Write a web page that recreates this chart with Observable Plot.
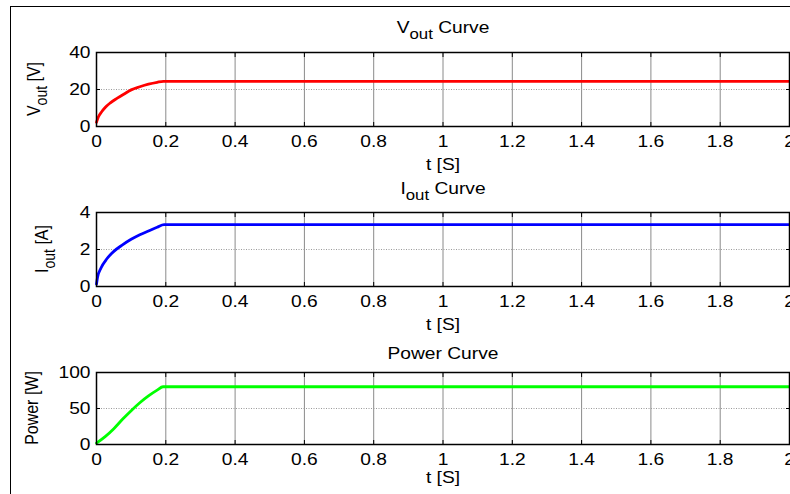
<!DOCTYPE html>
<html>
<head>
<meta charset="utf-8">
<script src="https://cdn.jsdelivr.net/npm/d3@7"></script>
<script src="https://cdn.jsdelivr.net/npm/@observablehq/plot@0.6"></script>
<style>
  html, body { margin: 0; padding: 0; background: #fff; overflow: hidden; }
  #wrap { position: relative; width: 790px; height: 494px; overflow: hidden; background: #fff; }
  #border { position: absolute; left: 10px; top: 6px; width: 800px; height: 500px;
            border-left: 1.5px solid #000; border-top: 1.5px solid #000; box-sizing: border-box; }
</style>
</head>
<body>
<div id="wrap"><div id="border"></div></div>
<script>
// ---- data ----
const xTicks = [0, 0.2, 0.4, 0.6, 0.8, 1, 1.2, 1.4, 1.6, 1.8, 2];

const tV   = [0, 0.005, 0.015, 0.025, 0.04, 0.06, 0.08, 0.1, 0.125, 0.15, 0.175, 0.193, 2.0];
const vOut = [2.3, 5, 8, 10.3, 12.8, 15.3, 17.6, 19.8, 21.5, 22.9, 23.9, 24.4, 24.4];
const vTicks = [0, 20, 40];

const tI   = [0, 0.003, 0.013, 0.03, 0.05, 0.075, 0.1, 0.125, 0.15, 0.175, 0.195, 2.0];
const iOut = [0.13, 0.5, 1.0, 1.5, 1.9, 2.25, 2.55, 2.8, 3.0, 3.2, 3.34, 3.34];
const iTicks = [0, 2, 4];

const tP   = [0, 0.025, 0.05, 0.075, 0.1, 0.125, 0.15, 0.175, 0.192, 2.0];
const pOut = [2, 11, 22, 35, 47, 58, 67.5, 75.5, 80.2, 80.2];
const pTicks = [0, 50, 100];

const wrap = document.getElementById("wrap");
const fmt = d => String(+d.toFixed(1));
const blank = () => "";
const SX = 1.2; // horizontal stretch of the reference lettering

function stretchText(el) {
  if (!el.textContent) return;
  const tr = el.getAttribute("transform");
  if (tr) {
    el.setAttribute("transform", tr + ` scale(${SX},1)`);
  } else {
    const x = +(el.getAttribute("x") || 0), y = +(el.getAttribute("y") || 0);
    el.removeAttribute("x"); el.removeAttribute("y");
    el.setAttribute("transform", `translate(${x},${y}) scale(${SX},1)`);
  }
}

function panel(ts, vs, yTicks, color, top, height, mb) {
  const data = ts.map((t, i) => ({t, v: vs[i]}));
  const chart = Plot.plot({
    width: 790, height,
    marginLeft: 96, marginRight: 1, marginTop: 52, marginBottom: mb,
    x: {domain: [0, 2]},
    y: {domain: [yTicks[0], yTicks[yTicks.length - 1]]},
    style: {fontFamily: "'Liberation Sans', Arial, sans-serif", fontSize: "16px",
            color: "#000", background: "transparent", overflow: "visible"},
    marks: [
      Plot.gridX(xTicks, {stroke: "#8a8a8a", strokeOpacity: 1, strokeWidth: 1}),
      Plot.gridY(yTicks, {stroke: "#9a9a9a", strokeOpacity: 1, strokeWidth: 1, strokeDasharray: "1,1.5"}),
      Plot.line(data, {x: "t", y: "v", stroke: color, strokeWidth: 2.8, curve: "monotone-x"}),
      Plot.axisX(xTicks, {anchor: "bottom", tickSize: 0, tickPadding: 9, tickFormat: fmt, label: null}),
      Plot.axisX(xTicks, {anchor: "bottom", tickSize: 4, dy: -4, tickFormat: blank, label: null}),
      Plot.axisX(xTicks, {anchor: "top", tickSize: 4, dy: 4, tickFormat: blank, label: null}),
      Plot.axisY(yTicks, {anchor: "left", tickSize: 0, tickPadding: 6, label: null}),
      Plot.axisY(yTicks, {anchor: "left", tickSize: 4, dx: 4, tickFormat: blank, label: null}),
      Plot.axisY(yTicks, {anchor: "right", tickSize: 4, dx: -4, tickFormat: blank, label: null}),
      Plot.frame({stroke: "#000", strokeWidth: 1.5})
    ]
  });
  chart.querySelectorAll("text").forEach(stretchText);
  chart.style.position = "absolute";
  chart.style.top = top + "px";
  chart.style.left = "0px";
  wrap.appendChild(chart);
}

panel(tV, vOut, vTicks, "#ff0000", 0, 160, 34);
panel(tI, iOut, iTicks, "#0000ff", 160, 160, 34);
panel(tP, pOut, pTicks, "#00ff00", 320, 174, 50);

// ---- titles and axis labels (text overlay) ----
const ov = d3.create("svg")
  .attr("width", 790).attr("height", 494)
  .style("position", "absolute").style("top", "0px").style("left", "0px")
  .style("pointer-events", "none")
  .style("font-family", "'Liberation Sans', Arial, sans-serif")
  .style("font-size", "16px");

function label(x, y, main, sub, rest, rotate) {
  const t = ov.append("text")
    .attr("text-anchor", "middle")
    .attr("fill", "#000")
    .attr("transform", `translate(${x},${y})` + (rotate ? ` rotate(-90) scale(1,${SX})` : ` scale(${SX},1)`));
  t.append("tspan").text(main);
  if (sub) {
    t.append("tspan").attr("dy", 6).style("font-size", "14px").text(sub);
    t.append("tspan").attr("dy", -6).text(rest);
  } else if (rest) {
    t.append("tspan").text(rest);
  }
}

// titles
label(443, 33, "V", "out", " Curve", false);
label(443, 194, "I", "out", " Curve", false);
label(443, 359, "Power Curve", null, null, false);
// x labels
label(443, 170, "t [S]", null, null, false);
label(443, 330, "t [S]", null, null, false);
label(443, 483, "t [S]", null, null, false);
// y labels
label(40, 89, "V", "out", " [V]", true);
label(48, 249, "I", "out", " [A]", true);
label(38, 408, "Power [W]", null, null, true);

wrap.appendChild(ov.node());
</script>
</body>
</html>
